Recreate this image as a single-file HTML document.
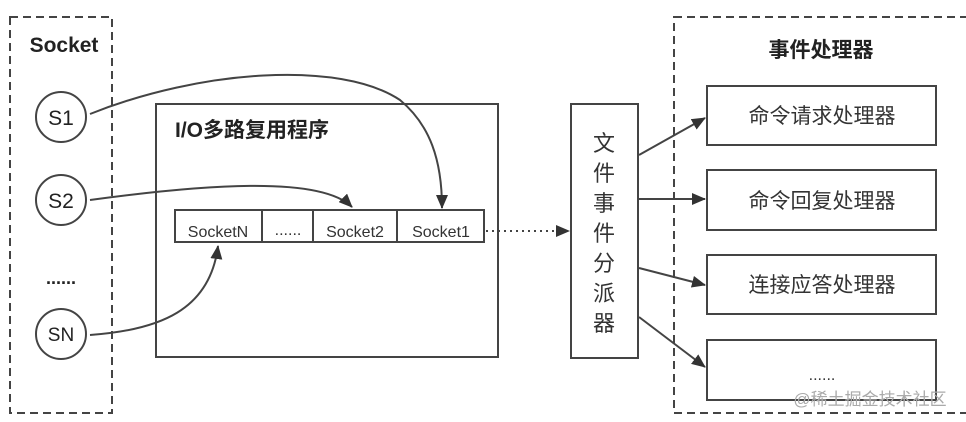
<!DOCTYPE html>
<html><head><meta charset="utf-8"><style>
body{margin:0;background:#fff;}
svg{display:block;font-family:"Liberation Sans","Noto Sans CJK SC",sans-serif;}
</style></head><body>
<svg width="966" height="422" viewBox="0 0 966 422" xmlns="http://www.w3.org/2000/svg">
<defs><marker id="a" markerWidth="10" markerHeight="10" refX="9" refY="5" orient="auto" markerUnits="userSpaceOnUse"><path d="M0,0 L10,5 L0,10 z" fill="#333"/></marker>
<marker id="b" markerWidth="14" markerHeight="12" refX="13" refY="6" orient="auto" markerUnits="userSpaceOnUse"><path d="M0,0 L14,6 L0,12 z" fill="#333"/></marker></defs>
<g fill="none" stroke="#444" stroke-width="2">
<rect x="10" y="17" width="102" height="396" stroke-dasharray="8,5"/>
<rect x="674" y="17" width="300" height="396" stroke-dasharray="8,5"/>
<circle cx="61" cy="117" r="25"/><circle cx="61" cy="200" r="25"/><circle cx="61" cy="334" r="25"/>
<rect x="156" y="104" width="342" height="253"/>
<rect x="175" y="210" width="309" height="32" fill="#fff"/>
<line x1="262" y1="210" x2="262" y2="242"/><line x1="313" y1="210" x2="313" y2="242"/><line x1="397" y1="210" x2="397" y2="242"/>
<rect x="571" y="104" width="67" height="254"/>
<rect x="707" y="86" width="229" height="59"/><rect x="707" y="170" width="229" height="60"/>
<rect x="707" y="255" width="229" height="59"/><rect x="707" y="340" width="229" height="60"/>
<path d="M90,114 C200,70 340,60 400,100 C430,125 442,160 442,208" marker-end="url(#b)"/>
<path d="M90,200 C200,185 320,175 352,207" marker-end="url(#b)"/>
<path d="M90,335 C160,330 210,310 218,246" marker-end="url(#b)"/>
<path d="M486,231 L569,231" stroke-dasharray="2,4" marker-end="url(#b)"/>
<line x1="639" y1="155" x2="705" y2="118" marker-end="url(#b)"/>
<line x1="639" y1="199" x2="705" y2="199" marker-end="url(#b)"/>
<line x1="639" y1="268" x2="705" y2="285" marker-end="url(#b)"/>
<line x1="639" y1="317" x2="705" y2="367" marker-end="url(#b)"/>
</g>
<g fill="#222">
<text x="64" y="52" font-size="21" font-weight="bold" text-anchor="middle">Socket</text>
<text x="61" y="125" font-size="21" text-anchor="middle">S1</text>
<text x="61" y="208" font-size="21" text-anchor="middle">S2</text>
<text x="61" y="341" font-size="19" text-anchor="middle">SN</text>
<text x="61" y="284" font-size="18" font-weight="bold" text-anchor="middle">......</text>
<text x="175" y="137" font-size="21" font-weight="bold">I/O多路复用程序</text>
<g font-size="16" text-anchor="middle" fill="#333">
<text x="218" y="237">SocketN</text><text x="288" y="235">......</text>
<text x="355" y="237">Socket2</text><text x="441" y="237">Socket1</text></g>
<g font-size="22" text-anchor="middle" fill="#333">
<text x="604" y="151">文</text><text x="604" y="181">件</text><text x="604" y="211">事</text>
<text x="604" y="241">件</text><text x="604" y="271">分</text><text x="604" y="301">派</text><text x="604" y="331">器</text></g>
<text x="821" y="57" font-size="21" font-weight="bold" text-anchor="middle">事件处理器</text>
<g font-size="21" text-anchor="middle" fill="#333">
<text x="822" y="123">命令请求处理器</text><text x="822" y="208">命令回复处理器</text>
<text x="822" y="292">连接应答处理器</text><text x="822" y="380" font-size="16">......</text></g>
<text x="870" y="405" font-size="17" text-anchor="middle" fill="#aaa">@稀土掘金技术社区</text>
</g>
</svg>
</body></html>
